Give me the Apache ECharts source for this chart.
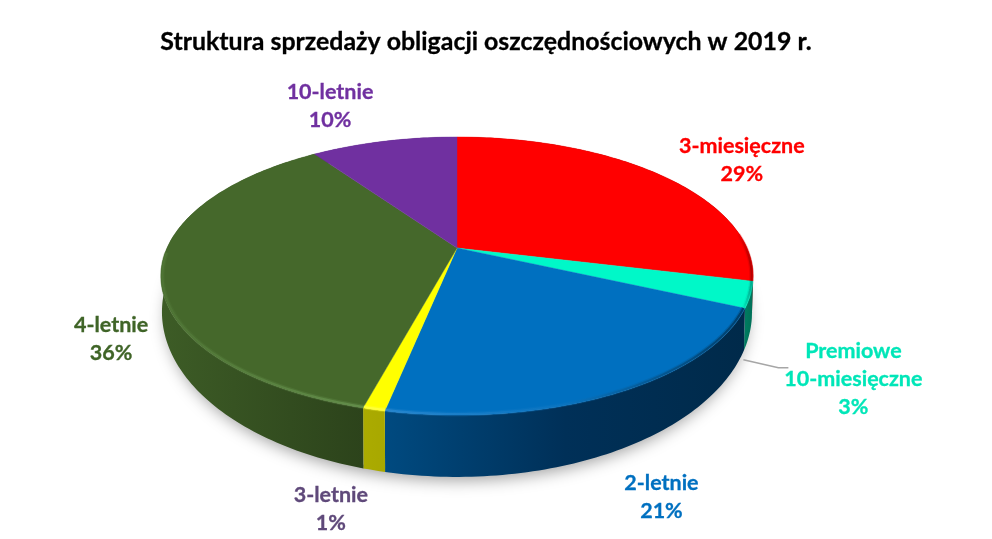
<!DOCTYPE html>
<html><head><meta charset="utf-8">
<style>html,body{margin:0;padding:0;background:#fff}#c{width:992px;height:539px}</style>
<script src="https://cdn.jsdelivr.net/npm/echarts@6/dist/echarts.min.js"></script>
</head><body><div id="c"></div>
<script>
const titleText = 'Struktura sprzedaży obligacji oszczędnościowych w 2019 r.';
const categories = ['3-miesięczne', 'Premiowe\n10-miesięczne', '2-letnie', '3-letnie', '4-letnie', '10-letnie'];
const shares = [28.8, 3.0, 21.4, 1.0, 36.1, 9.7];

// styling, one entry per slice
const topColors = ['#FF0000', '#00F8C8', '#0070C0', '#FFFF00', '#45682B', '#7030A0'];
const labelColors = ['#FF0000', '#00E6B8', '#0070C0', '#5F497A', '#3F6427', '#7030A0'];
const wallStops = [
  ['#8a0000', '#6a0000'], ['#007d62', '#006f57'], ['#004a80', '#003058', '#002a4a'],
  ['#abab00', '#a8a800'], ['#3d5c26', '#2c431b'], ['#4a2070', '#4a2070']
];
const rimStops = [
  ['#ff0000', '#a00000'], ['#00f8c8', '#00907a'], ['#2a88d0', '#0a74c0', '#00385f'],
  ['#ffff40', '#ffff40'], ['#4f7535', '#66924e'], ['#7030a0', '#7030a0']
];
// label offset from the slice's outer rim midpoint
const labelNudge = [[82, -15], [103, 84], [44, 104], [-43, 100], [-50, 67], [-54, -35]];
const leaderSlice = 1, leaderOffsets = [[-110, -19], [-75, -11], [-65, -11]];

// perspective model of the disc
const APEX_X = 457, APEX_Y = 248, K = 0.2014;
const TOP = { a: 290, b: 133.4, y: 248 };
const BASE = { a: 289, b: 158.3, y: 278.7 };
const total = shares.reduce((s, v) => s + v, 0);

function project(deg, plane, r) {
  const t = deg * Math.PI / 180, rr = r === undefined ? 1 : r;
  const u = rr * Math.sin(t), v = rr * Math.cos(t), w = 1 + K * v;
  return [APEX_X + plane.a * u / w, plane.y - plane.b * v / w];
}
function arc(d0, d1, plane, r) {
  const n = Math.max(2, Math.ceil(Math.abs(d1 - d0)));
  const out = [];
  for (let i = 0; i <= n; i++) out.push(project(d0 + (d1 - d0) * i / n, plane, r));
  return out;
}
function hGrad(stops) {
  return { type: 'linear', x: 0, y: 0, x2: 1, y2: 0,
    colorStops: stops.map((c, i) => ({ offset: i / (stops.length - 1), color: c })) };
}

function renderItem(params, api) {
  const i = params.dataIndex;
  const before = shares.slice(0, i).reduce((s, v) => s + v, 0);
  const a0 = before / total * 360, a1 = (before + api.value(1)) / total * 360, mid = (a0 + a1) / 2;
  const children = [];

  if (i === 0) {
    children.push({ type: 'polygon', z2: 1, shape: { points: arc(0, 360, BASE, 0.985) },
      style: { fill: '#fff', shadowBlur: 16, shadowColor: 'rgba(0,0,0,0.38)', shadowOffsetY: 7 } });
  }
  // outer wall
  children.push({ type: 'polygon', z2: 3,
    shape: { points: arc(a0, a1, TOP).concat(arc(a1, a0, BASE)) },
    style: { fill: hGrad(wallStops[i]), stroke: null } });
  // top face
  const face = [[APEX_X, APEX_Y]].concat(arc(a0, a1, TOP));
  children.push({ type: 'polygon', z2: 5, shape: { points: face },
    style: { fill: topColors[i], stroke: topColors[i], lineWidth: 0.4 } });
  // soft bevel along the front of the rim
  const visible0 = Math.max(a0, 84), visible1 = Math.min(a1, 268);
  if (visible1 > visible0) {
    const rimPts = arc(visible0, visible1, TOP, 0.995);
    children.push({ type: 'polyline', z2: 6, shape: { points: rimPts },
      style: { fill: null, stroke: hGrad(rimStops[i]), lineWidth: 4.5, opacity: 0.3 } });
    children.push({ type: 'polyline', z2: 7, shape: { points: rimPts },
      style: { fill: null, stroke: hGrad(rimStops[i]), lineWidth: 2, opacity: 0.85 } });
  }
  // label
  const rimMid = project(mid, TOP);
  const lx = rimMid[0] + labelNudge[i][0], ly = rimMid[1] + labelNudge[i][1];
  children.push({ type: 'text', z2: 10,
    style: { text: categories[i] + '\n' + Math.round(api.value(1)) + '%', x: lx, y: ly,
      align: 'center', verticalAlign: 'middle', lineHeight: 28,
      fill: labelColors[i], stroke: labelColors[i], lineWidth: 0.3,
      fontFamily: 'Lato', fontWeight: 'bold', fontSize: 21.5 } });
  if (i === leaderSlice) {
    children.push({ type: 'polyline', z2: 2,
      shape: { points: leaderOffsets.map(o => [lx + o[0], ly + o[1]]) },
      style: { fill: null, stroke: '#a6a6a6', lineWidth: 1.5 } });
  }
  return { type: 'group', children };
}

const chart = echarts.init(document.getElementById('c'), null, { renderer: 'canvas' });
chart.setOption({
  animation: false,
  backgroundColor: '#ffffff',
  title: { text: titleText, left: 481, textAlign: 'center', top: 24,
    textStyle: { color: '#000', fontFamily: 'Lato', fontWeight: 'bold', fontSize: 24.9,
      textBorderColor: '#000', textBorderWidth: 0.3 } },
  series: [{ type: 'custom', coordinateSystem: 'none', silent: true, renderItem,
    data: shares.map((v, i) => ({ name: categories[i], value: [i, v] })) }]
});
</script></body></html>
